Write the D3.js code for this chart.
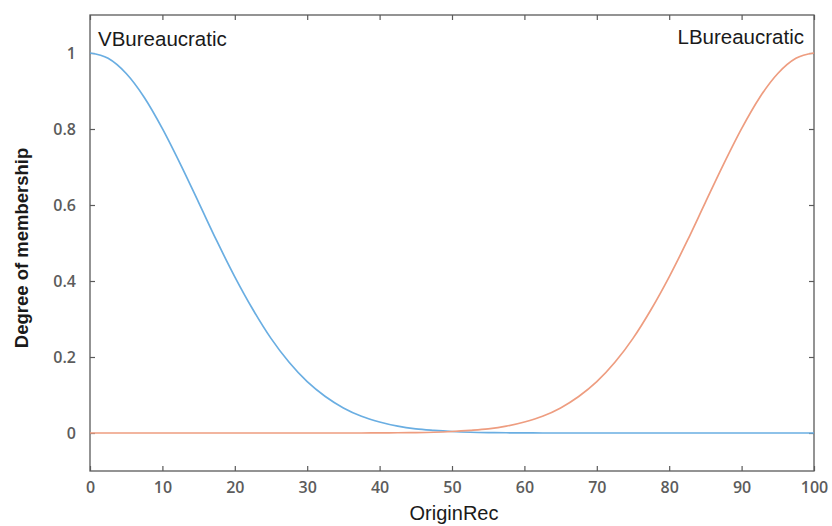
<!DOCTYPE html>
<html><head><meta charset="utf-8">
<script src="https://cdn.jsdelivr.net/npm/d3@7"></script>
<style>body{margin:0;background:#fff}svg{display:block}</style>
</head><body>
<svg id="c" width="832" height="526"></svg>
<script>
const xs = [0,2.5,5,7.5,10,12.5,15,17.5,20,22.5,25,27.5,30,32.5,35,37.5,40,42.5,45,47.5,50,52.5,55,57.5,60,62.5,65,67.5,70,72.5,75,77.5,80,82.5,85,87.5,90,92.5,95,97.5,100];
const vBureaucratic = [1.000,0.986,0.946,0.883,0.801,0.707,0.607,0.506,0.411,0.325,0.249,0.186,0.135,0.096,0.066,0.044,0.029,0.018,0.011,0.007,0.004,0.002,0.001,0.0006,0.0003,0,0,0,0,0,0,0,0,0,0,0,0,0,0,0,0];
const lBureaucratic = [0,0,0,0,0,0,0,0,0,0,0,0,0,0,0,0,0.0003,0.0006,0.001,0.002,0.004,0.007,0.011,0.018,0.029,0.044,0.066,0.096,0.135,0.186,0.249,0.325,0.411,0.506,0.607,0.707,0.801,0.883,0.946,0.986,1.000];
const xTicks = [0,10,20,30,40,50,60,70,80,90,100];
const yTicks = [0,0.2,0.4,0.6,0.8,1];
const seriesNames = ["VBureaucratic","LBureaucratic"];
const seriesColors = ["#6aaee2","#ee9d80"];

const svg = d3.select("#c");
const L=90,R=814,T=15,B=471;
const x = d3.scaleLinear().domain([0,100]).range([L,R]);
const y = d3.scaleLinear().domain([-0.1,1.1]).range([B,T]);
const axisCol="#5a5a5a";
const font="'Liberation Sans', Arial, sans-serif";

svg.append("rect").attr("x",L).attr("y",T).attr("width",R-L).attr("height",B-T)
  .attr("fill","none").attr("stroke",axisCol).attr("stroke-width",1.3);

const gx = svg.append("g").attr("transform",`translate(0,${B})`)
  .call(d3.axisBottom(x).tickValues(xTicks).tickSizeInner(-5).tickSizeOuter(0).tickPadding(14).tickFormat(d3.format("d")));
const gxt = svg.append("g").attr("transform",`translate(0,${T})`)
  .call(d3.axisTop(x).tickValues(xTicks).tickSizeInner(-5).tickSizeOuter(0).tickFormat(""));
const gy = svg.append("g").attr("transform",`translate(${L},0)`)
  .call(d3.axisLeft(y).tickValues(yTicks).tickSizeInner(-5).tickSizeOuter(0).tickPadding(14).tickFormat(d=>d===0?"0":d===1?"1":d3.format(".1f")(d)));
const gyr = svg.append("g").attr("transform",`translate(${R},0)`)
  .call(d3.axisRight(y).tickValues(yTicks).tickSizeInner(-5).tickSizeOuter(0).tickFormat(""));
[gx,gxt,gy,gyr].forEach(g=>{
  g.select(".domain").remove();
  g.selectAll(".tick line").attr("stroke",axisCol).attr("stroke-width",1.2);
  g.selectAll(".tick text").attr("fill","#5c5c5c").attr("font-family","'Open Sans', sans-serif")
   .attr("font-size",16).attr("font-weight",600);
});
gx.selectAll(".tick text").attr("dy","0.71em").attr("y",11);

const line = d3.line().x((d,i)=>x(xs[i])).y(d=>y(d)).curve(d3.curveMonotoneX);
[vBureaucratic,lBureaucratic].forEach((s,k)=>{
  svg.append("path").datum(s).attr("d",line).attr("fill","none")
    .attr("stroke",seriesColors[k]).attr("stroke-width",1.7);
});

svg.append("text").attr("x",98).attr("y",46).text(seriesNames[0])
  .attr("font-family",font).attr("font-size",20.5).attr("fill","#1a1a1a");
svg.append("text").attr("x",804).attr("y",44).attr("text-anchor","end").text(seriesNames[1])
  .attr("font-family",font).attr("font-size",20.5).attr("fill","#1a1a1a");

svg.append("text").attr("x",(L+R)/2+2).attr("y",520).attr("text-anchor","middle").text("OriginRec")
  .attr("font-family",font).attr("font-size",20).attr("fill","#1a1a1a");
svg.append("text").attr("transform","translate(28,248) rotate(-90)").attr("text-anchor","middle")
  .text("Degree of membership").attr("font-family",font).attr("font-size",18.5).attr("font-weight",600).attr("fill","#1a1a1a");
</script>
</body></html>
